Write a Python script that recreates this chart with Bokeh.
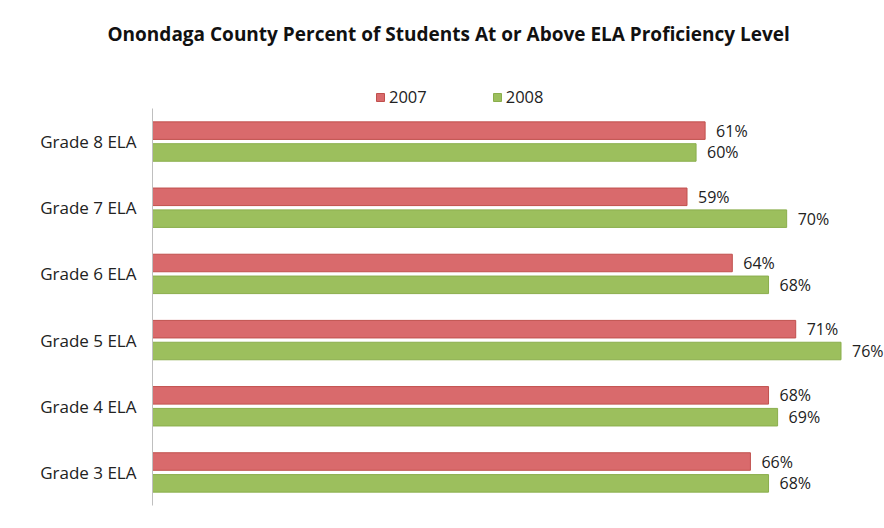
from bokeh.plotting import figure
from bokeh.models import ColumnDataSource, Legend, LegendItem, Range1d, FixedTicker
from bokeh.core.properties import value
from bokeh.embed import file_html
from bokeh.resources import INLINE
from bokeh.transform import dodge

grades = ["Grade 3 ELA", "Grade 4 ELA", "Grade 5 ELA", "Grade 6 ELA", "Grade 7 ELA", "Grade 8 ELA"]
pct_2007 = [66, 68, 71, 64, 59, 61]
pct_2008 = [68, 69, 76, 68, 70, 60]
series = ["2007", "2008"]
title_text = "Onondaga County Percent of Students At or Above ELA Proficiency Level"

FONT = "Open Sans"
RED = "#D96A6C"
RED_EDGE = "#C0504D"
GREEN = "#9CBF5D"
GREEN_EDGE = "#8AAE4C"

pos = [i + 0.5 for i in range(len(grades))]
src = ColumnDataSource(dict(
    pos=pos,
    v07=pct_2007,
    v08=pct_2008,
    l07=[f"{v}%" for v in pct_2007],
    l08=[f"{v}%" for v in pct_2008],
))

n = len(grades)
pad = 0.347
p = figure(width=884, height=528, output_backend="svg", toolbar_location=None,
           y_range=Range1d(-pad, n + pad), x_range=Range1d(0, 80.8),
           min_border_left=152, min_border_right=0, min_border_bottom=0, min_border_top=85)

p.title.text = title_text + "\n "
p.title.text_font = FONT
p.title.text_font_size = "19px"
p.title.text_font_style = "bold"
p.title.text_color = "#111111"
p.title.align = "left"
p.title.vertical_align = "top"
p.title.offset = -45
p.title.standoff = 22

r07 = p.hbar(y=dodge("pos", 0.165), right="v07", height=0.265, source=src,
             fill_color=RED, line_color=RED_EDGE, line_width=1)
r08 = p.hbar(y=dodge("pos", -0.165), right="v08", height=0.265, source=src,
             fill_color=GREEN, line_color=GREEN_EDGE, line_width=1)

p.text(x="v07", y=dodge("pos", 0.165), text="l07", source=src,
       x_offset=11, text_baseline="middle", text_font=value(FONT), text_font_size="16px",
       text_color="#222222")
p.text(x="v08", y=dodge("pos", -0.165), text="l08", source=src,
       x_offset=11, text_baseline="middle", text_font=value(FONT), text_font_size="16px",
       text_color="#222222")

legend = Legend(items=[LegendItem(label=series[0], renderers=[r07]),
                       LegendItem(label=series[1], renderers=[r08])],
                orientation="horizontal", location=(223, 420),
                label_text_font=FONT, label_text_font_size="16.5px", label_text_color="#222222",
                glyph_width=10, glyph_height=10, spacing=65, label_standoff=4,
                border_line_color=None, background_fill_alpha=0, padding=0, margin=0)
p.add_layout(legend)

p.xaxis.visible = False
p.xgrid.visible = False
p.ygrid.visible = False
p.yaxis.ticker = FixedTicker(ticks=pos, minor_ticks=[])
p.yaxis.major_label_overrides = {v: g for v, g in zip(pos, grades)}
p.yaxis.bounds = (0, n)
p.yaxis.axis_line_color = "#BFBFBF"
p.yaxis.major_tick_line_color = None
p.yaxis.minor_tick_line_color = None
p.yaxis.major_label_text_font = FONT
p.yaxis.major_label_text_font_size = "17px"
p.yaxis.major_label_text_color = "#222222"
p.yaxis.major_label_standoff = 10
p.outline_line_color = None

open("out.html", "w").write(file_html(p, INLINE))
